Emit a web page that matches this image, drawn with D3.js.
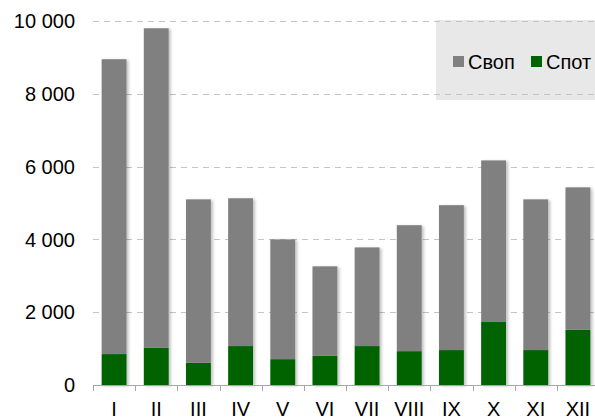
<!DOCTYPE html>
<meta charset="utf-8">
<script src="https://d3js.org/d3.v7.min.js"></script>
<style>
  body { margin: 0; background: #fff; }
  text { font-family: "Liberation Sans", Arial, sans-serif; }
</style>
<div id="my_dataviz"></div>
<script>

// data
var months = ["I", "II", "III", "IV", "V", "VI", "VII", "VIII", "IX", "X", "XI", "XII"];
var spot = [850, 1020, 610, 1070, 710, 800, 1070, 930, 960, 1730, 960, 1520];
var swap = [8100, 8780, 4490, 4060, 3290, 2460, 2710, 3460, 3980, 4440, 4140, 3910];
var yTicks = [0, 2000, 4000, 6000, 8000, 10000];
var seriesNames = ["Своп", "Спот"];
var seriesColors = ["#808080", "#006400"];

var W = 595, H = 420;
var left = 93, right = 599, top0 = 21, base = 385;

var svg = d3.select("#my_dataviz")
  .append("svg")
    .attr("width", W)
    .attr("height", H);

// soft shadow on the bars
var defs = svg.append("defs");
defs.append("filter")
    .attr("id", "shadow")
    .attr("x", "-20%").attr("y", "-5%")
    .attr("width", "150%").attr("height", "115%")
  .append("feDropShadow")
    .attr("dx", 2).attr("dy", 1)
    .attr("stdDeviation", 1.5)
    .attr("flood-color", "#000")
    .attr("flood-opacity", 0.25);

var x = d3.scaleBand()
  .domain(months)
  .range([left, right])
  .paddingInner(0.41)
  .paddingOuter(0.205);

var xb = d3.scaleBand()
  .domain(months)
  .range([left, right]);

var y = d3.scaleLinear()
  .domain([0, 10000])
  .range([base, top0]);

// legend background (behind gridlines)
var lg = svg.append("g");
lg.append("rect")
  .attr("x", 436).attr("y", 20)
  .attr("width", 170).attr("height", 80)
  .attr("fill", "#e8e8e8");

// gridlines
svg.append("g")
  .selectAll("line")
  .data(yTicks.filter(function (d) { return d > 0; }))
  .enter()
  .append("line")
    .attr("x1", left).attr("x2", W)
    .attr("y1", function (d) { return Math.round(y(d)) + 0.5; })
    .attr("y2", function (d) { return Math.round(y(d)) + 0.5; })
    .attr("stroke", "#c4c4c4")
    .attr("stroke-width", 1)
    .attr("stroke-dasharray", "6,5");

// y labels
svg.append("g")
  .selectAll("text")
  .data(yTicks)
  .enter()
  .append("text")
    .attr("x", 75)
    .attr("y", function (d) { return y(d); })
    .attr("dy", "0.36em")
    .attr("text-anchor", "end")
    .attr("font-size", 20)
    .attr("fill", "#000")
    .text(function (d) { return d3.format(",")(d).replace(/,/g, " "); });

// stacked bars
var table = months.map(function (m, i) { return {m: m, swap: swap[i], spot: spot[i]}; });
var stacked = d3.stack().keys(["spot", "swap"])(table);
var colorOf = {spot: seriesColors[1], swap: seriesColors[0]};

var bars = svg.append("g").attr("filter", "url(#shadow)");
bars.selectAll("g")
  .data(stacked)
  .enter()
  .append("g")
    .attr("fill", function (d) { return colorOf[d.key]; })
  .selectAll("rect")
  .data(function (d) { return d; })
  .enter()
  .append("rect")
    .attr("x", function (d) { return x(d.data.m); })
    .attr("width", x.bandwidth())
    .attr("y", function (d) { return y(d[1]); })
    .attr("height", function (d) { return y(d[0]) - y(d[1]); });

// x axis line and ticks
var ax = svg.append("g");
ax.append("line")
  .attr("x1", left).attr("x2", W)
  .attr("y1", base + 0.5).attr("y2", base + 0.5)
  .attr("stroke", "#a6a6a6");
ax.selectAll(".tk")
  .data(months)
  .enter()
  .append("line")
    .attr("x1", function (d) { return Math.round(xb(d)) + 0.5; })
    .attr("x2", function (d) { return Math.round(xb(d)) + 0.5; })
    .attr("y1", base).attr("y2", base + 6)
    .attr("stroke", "#a6a6a6");
ax.selectAll("text")
  .data(months)
  .enter()
  .append("text")
    .attr("x", function (d) { return xb(d) + xb.bandwidth() / 2; })
    .attr("y", 416)
    .attr("text-anchor", "middle")
    .attr("font-size", 20)
    .text(function (d) { return d; });

// legend items
var legX = [453, 531];
seriesNames.forEach(function (name, i) {
  lg.append("rect")
    .attr("x", legX[i]).attr("y", 56)
    .attr("width", 11).attr("height", 11)
    .attr("fill", seriesColors[i]);
  lg.append("text")
    .attr("x", legX[i] + 15).attr("y", 69)
    .attr("font-size", 20)
    .text(name);
});

</script>
